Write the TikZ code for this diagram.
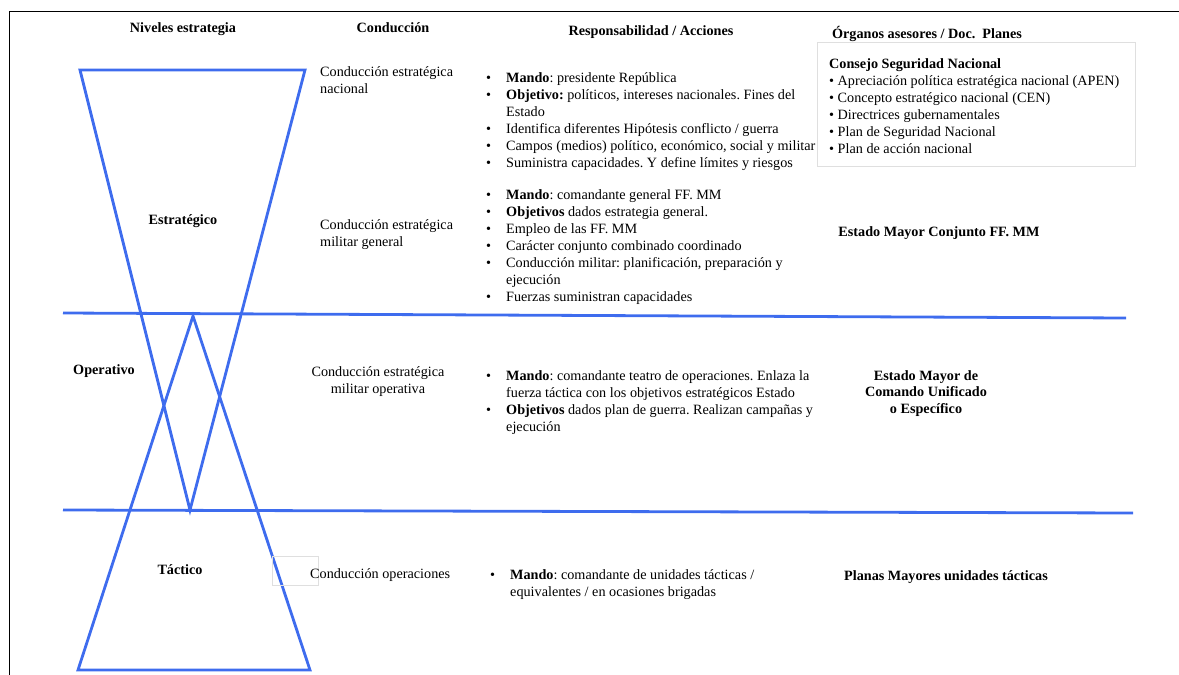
\documentclass[tikz,border=0pt]{standalone}
\usepackage{fontspec}
\setmainfont{Liberation Serif}
\usepackage{array}
\frenchspacing
\definecolor{levelblue}{RGB}{62,108,238}
\newcommand{\blist}[1]{\begin{tabular}[t]{@{}p{20pt}@{}l@{}}#1\end{tabular}}
\tikzset{
  level/.style={draw=levelblue, line width=2.8pt, line join=miter},
  band/.style={draw=levelblue, line width=2.8pt},
  frame/.style={draw=black, line width=1.2pt},
  softbox/.style={draw=gray!25, line width=0.5pt},
  head/.style={font=\fontsize{14.2}{16.5}\selectfont\bfseries, inner sep=0pt, align=center},
  lbl/.style={font=\fontsize{14.2}{17}\selectfont, inner sep=0pt, align=left},
  lst/.style={font=\fontsize{14.2}{17}\selectfont, inner sep=0pt, anchor=base west}
}
\begin{document}
\begin{tikzpicture}[x=1pt,y=-1pt]
 \useasboundingbox (0,0) rectangle (1179,675);
 \draw[frame] (9.5,675) -- (9.5,11.5) -- (1179,11.5);
 % levels
 \coordinate (estTL) at (80,70);
 \coordinate (estTR) at (305,70);
 \coordinate (estApex) at (190,510);
 \coordinate (tacApex) at (193,316);
 \coordinate (tacBL) at (78,670);
 \coordinate (tacBR) at (310,670);
 \draw[level] (estTL) -- (estTR) -- (estApex) -- cycle;
 \draw[level] (tacApex) -- (tacBR) -- (tacBL) -- cycle;
 \coordinate (bandAL) at (63,313);
 \coordinate (bandAR) at (1126,318);
 \coordinate (bandBL) at (63,510);
 \coordinate (bandBR) at (1133,513);
 \draw[band] (bandAL) -- (bandAR);
 \draw[band] (bandBL) -- (bandBR);
 \draw[softbox] (817,42) rectangle (1135,166);
 \draw[softbox] (272,556) rectangle (318,585);
 % headers
 \node[head, anchor=base] (hNiv) at (183,32) {Niveles estrategia};
 \node[head, anchor=base] (hCon) at (393,32) {Conducción};
 \node[head, anchor=base] (hRes) at (651,35) {Responsabilidad / Acciones};
 \node[head, anchor=base] (hOrg) at (927,38) {Órganos asesores / Doc.\ \ Planes};
 % estrategico
 \node[head, anchor=base] (nEst) at (183,224) {Estratégico};
 \node[lbl, anchor=base west] (cNac) at (320,93) {Conducción estratégica\\nacional};
 \node[lst] (rNac) at (486,82) {\blist{
  \textbullet & \textbf{Mando}: presidente República\\
  \textbullet & \textbf{Objetivo:} políticos, intereses nacionales. Fines del\\
  & Estado\\
  \textbullet & Identifica diferentes Hipótesis conflicto / guerra\\
  \textbullet & Campos (medios) político, económico, social y militar\\
  \textbullet & Suministra capacidades. Y define límites y riesgos\\}};
 \node[lbl, anchor=base west] (oNac) at (829,153) {\textbf{Consejo Seguridad Nacional}\\
  \textbullet\ Apreciación política estratégica nacional (APEN)\\
  \textbullet\ Concepto estratégico nacional (CEN)\\
  \textbullet\ Directrices gubernamentales\\
  \textbullet\ Plan de Seguridad Nacional\\
  \textbullet\ Plan de acción nacional};
 \node[lbl, anchor=base west] (cGen) at (320,246) {Conducción estratégica\\militar general};
 \node[lst] (rGen) at (486,199) {\blist{
  \textbullet & \textbf{Mando}: comandante general FF. MM\\
  \textbullet & \textbf{Objetivos} dados estrategia general.\\
  \textbullet & Empleo de las FF. MM\\
  \textbullet & Carácter conjunto combinado coordinado\\
  \textbullet & Conducción militar: planificación, preparación y\\
  & ejecución\\
  \textbullet & Fuerzas suministran capacidades\\}};
 \node[head, anchor=base] (oGen) at (939,236) {Estado Mayor Conjunto FF. MM};
 % operativo
 \node[head, anchor=base] (nOpe) at (104,374) {Operativo};
 \node[lbl, align=center, anchor=base] (cOpe) at (378,393) {Conducción estratégica\\militar operativa};
 \node[lst] (rOpe) at (486,380) {\blist{
  \textbullet & \textbf{Mando}: comandante teatro de operaciones. Enlaza la\\
  & fuerza táctica con los objetivos estratégicos Estado\\
  \textbullet & \textbf{Objetivos} dados plan de guerra. Realizan campañas y\\
  & ejecución\\}};
 \node[head, anchor=base] (oOpe) at (926,413) {Estado Mayor de\\Comando Unificado\\o Específico};
 % tactico
 \node[head, anchor=base] (nTac) at (180,574) {Táctico};
 \node[lbl, anchor=base west] (cTac) at (310,578) {Conducción operaciones};
 \node[lst] (rTac) at (490,579) {\blist{
  \textbullet & \textbf{Mando}: comandante de unidades tácticas /\\
  & equivalentes / en ocasiones brigadas\\}};
 \node[head, anchor=base] (oTac) at (946,580) {Planas Mayores unidades tácticas};
\end{tikzpicture}
\end{document}
